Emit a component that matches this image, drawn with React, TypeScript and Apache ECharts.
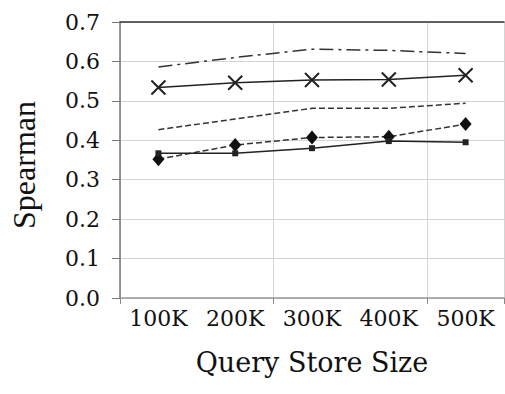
import React, { useEffect, useRef } from "react";
import * as echarts from "echarts";

const categories = ["100K", "200K", "300K", "400K", "500K"];
const dashDotSeries = [0.586, 0.61, 0.631, 0.628, 0.62];
const crossSeries = [0.534, 0.546, 0.553, 0.554, 0.565];
const dashedSeries = [0.427, 0.454, 0.481, 0.481, 0.494];
const diamondSeries = [0.352, 0.388, 0.407, 0.409, 0.441];
const squareSeries = [0.367, 0.367, 0.38, 0.398, 0.395];
const yTicks = [0, 0.1, 0.2, 0.3, 0.4, 0.5, 0.6, 0.7];

const FONT = "Liberation Serif";
const TICK_FONT = "DejaVu Serif";

export default function App() {
  const ref = useRef<HTMLDivElement>(null);
  useEffect(() => {
    if (!ref.current) return;
    const chart = echarts.init(ref.current, null, { renderer: "svg" });
    chart.setOption({
      animation: false,
      backgroundColor: "#fff",
      textStyle: { fontFamily: FONT },
      grid: { left: 120, right: 1, top: 22, bottom: 96, containLabel: false },
      xAxis: [
        {
          type: "category",
          data: categories,
          boundaryGap: true,
          name: "Query Store Size",
          nameLocation: "middle",
          nameGap: 51,
          nameTextStyle: { fontFamily: TICK_FONT, fontSize: 27, color: "#111" },
          axisLine: { lineStyle: { color: "#999", width: 1.5 } },
          axisTick: { show: true, interval: 1, length: 6, lineStyle: { color: "#888" } },
          axisLabel: {
            show: true,
            interval: 0,
            margin: 9,
            fontFamily: TICK_FONT,
            fontSize: 22,
            color: "#111",
          },
          splitLine: { show: true, interval: 1, lineStyle: { color: "#d4d4d4", width: 1 } },
        },
        {
          type: "category",
          data: categories,
          position: "top",
          axisLine: { show: true, lineStyle: { color: "#333", width: 1.5 } },
          axisTick: { show: false },
          axisLabel: { show: false },
          splitLine: { show: false },
        },
      ],
      yAxis: {
        type: "value",
        min: 0,
        max: 0.7,
        interval: 0.1,
        name: "Spearman",
        nameLocation: "middle",
        nameGap: 80,
        nameTextStyle: { fontFamily: FONT, fontSize: 32, color: "#111", padding: [0, 10, 0, 0] },
        axisLine: { show: true, lineStyle: { color: "#777", width: 1.5 } },
        axisTick: { show: true, length: 8, lineStyle: { color: "#777" } },
        axisLabel: {
          show: true,
          margin: 20,
          fontFamily: TICK_FONT,
          fontSize: 22,
          color: "#111",
          formatter: (v: number) => {
            const t = yTicks.find((x) => Math.abs(x - v) < 1e-9);
            return (t ?? v).toFixed(1);
          },
        },
        splitLine: { show: true, lineStyle: { color: "#d4d4d4", width: 1 } },
      },
      series: [
        {
          name: "dashdot",
          type: "line",
          data: dashDotSeries,
          symbol: "none",
          lineStyle: { color: "#333", width: 1.5, type: [14, 5, 3, 5] },
        },
        {
          name: "cross",
          type: "line",
          data: crossSeries,
          symbol: "path://M0,0L10,10M10,0L0,10",
          symbolSize: 14,
          itemStyle: { color: "none", borderColor: "#222", borderWidth: 2 },
          lineStyle: { color: "#222", width: 1.5 },
        },
        {
          name: "dashed",
          type: "line",
          data: dashedSeries,
          symbol: "none",
          lineStyle: { color: "#333", width: 1.5, type: [6, 3] },
        },
        {
          name: "diamond",
          type: "line",
          data: diamondSeries,
          symbol: "diamond",
          symbolSize: [12, 14],
          itemStyle: { color: "#111" },
          lineStyle: { color: "#333", width: 1.5, type: [6, 3] },
        },
        {
          name: "square",
          type: "line",
          data: squareSeries,
          symbol: "rect",
          symbolSize: 6,
          itemStyle: { color: "#222" },
          lineStyle: { color: "#222", width: 1.5 },
        },
      ],
    });
    return () => chart.dispose();
  }, []);
  return <div ref={ref} style={{ width: 505, height: 394, position: "absolute", left: 0, top: 0 }} />;
}
